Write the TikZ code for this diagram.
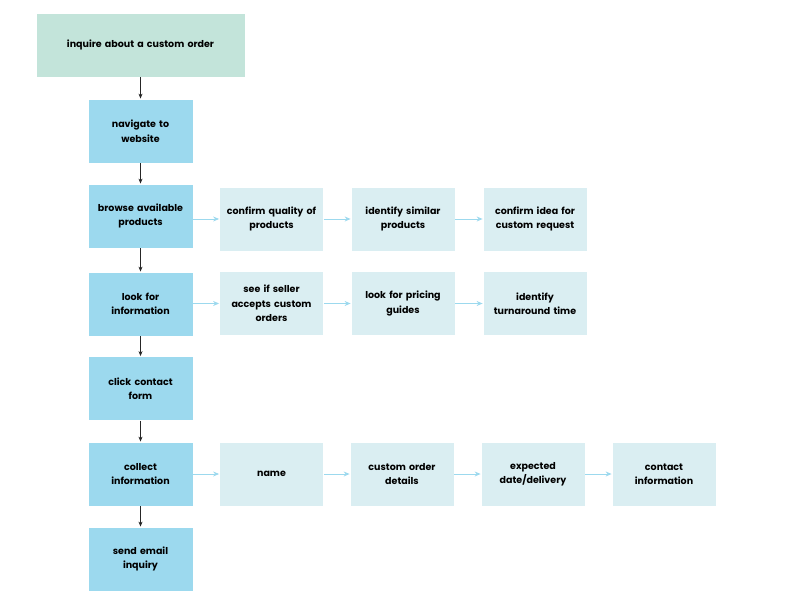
\documentclass[tikz,border=0pt]{standalone}
\usepackage{fontspec}
\setmainfont{Poppins}
\usetikzlibrary{arrows.meta}
\definecolor{topfill}{HTML}{C3E4DA}
\definecolor{stepfill}{HTML}{9CD9EE}
\definecolor{subfill}{HTML}{DAEEF2}
\definecolor{linkblue}{HTML}{9CD9EE}
\tikzset{
  box/.style={draw=white, line width=0.8pt, minimum height=64pt, inner sep=2pt, align=center,
    font=\fontsize{9.5pt}{14.5pt}\selectfont\bfseries, text width=100pt},
  topbox/.style={box, fill=topfill, minimum width=209pt, text width=200pt},
  stepbox/.style={box, fill=stepfill, minimum width=105pt},
  subbox/.style={box, fill=subfill, minimum width=104pt},
  down/.style={draw=black!85, line width=0.6pt, -{Stealth[length=5pt,width=4pt]}},
  side/.style={draw=linkblue, line width=0.9pt, -{Stealth[length=6pt,width=5pt,fill=linkblue]}},
}
\begin{document}
\begin{tikzpicture}[x=1pt,y=-1pt]
\useasboundingbox (0,0) rectangle (792,612);
% main column
\node[topbox] (inq) at (140.5,45) {inquire about a custom order};
\node[stepbox] (nav) at (140.5,131) {navigate to\\website};
\node[stepbox] (brw) at (140.5,216) {browse available\\products};
\node[stepbox] (look) at (140.5,304) {look for\\information};
\node[stepbox] (click) at (140.5,388.5) {click contact\\form};
\node[stepbox] (coll) at (140.5,474) {collect\\information};
\node[stepbox] (send) at (140.5,559) {send email\\inquiry};
% branch from browsing
\node[subbox] (qual) at (271.5,219) {confirm quality of\\products};
\node[subbox] (simi) at (403,219) {identify similar\\products};
\node[subbox] (idea) at (535,219) {confirm idea for\\custom request};
% branch from looking for information
\node[subbox] (acc) at (271.5,303.5) {see if seller\\accepts custom\\orders};
\node[subbox] (price) at (403,303.5) {look for pricing\\guides};
\node[subbox] (turn) at (535,303.5) {identify\\turnaround time};
% branch from collecting information
\node[subbox] (name) at (271.5,474) {name};
\node[subbox] (det) at (402,474) {custom order\\details};
\node[subbox] (date) at (533,474) {expected\\date/delivery};
\node[subbox] (cont) at (664,474) {contact\\information};
% vertical flow
\draw[down] (inq) -- (nav);
\draw[down] (nav) -- (brw);
\draw[down] (brw) -- (look);
\draw[down] (look) -- (click);
\draw[down] (click) -- (coll);
\draw[down] (coll) -- (send);
% side flows
\draw[side] (brw.east |- qual) -- (qual);
\draw[side] (qual) -- (simi);
\draw[side] (simi) -- (idea);
\draw[side] (look.east |- acc) -- (acc);
\draw[side] (acc) -- (price);
\draw[side] (price) -- (turn);
\draw[side] (coll) -- (name);
\draw[side] (name) -- (det);
\draw[side] (det) -- (date);
\draw[side] (date) -- (cont);
\end{tikzpicture}
\end{document}
